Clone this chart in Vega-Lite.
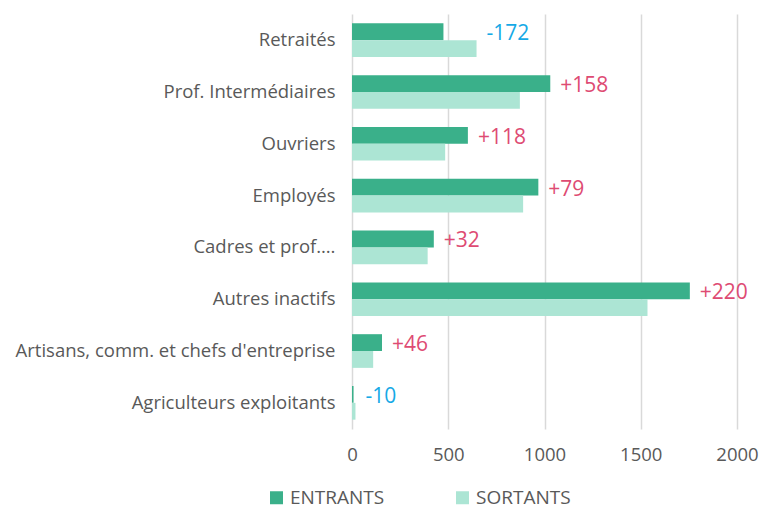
{
  "$schema": "https://vega.github.io/schema/vega-lite/v6.json",
  "width": 385,
  "height": 415,
  "autosize": {"type": "none"},
  "padding": {"left": 352, "top": 14, "right": 36, "bottom": 80},
  "background": "white",
  "config": {
    "view": {"stroke": null},
    "font": "Open Sans",
    "axis": {"labelFont": "Open Sans", "labelColor": "#595959", "labelFontSize": 18.5}
  },
  "data": {
    "values": [
      {"cat": "Retraités", "ENTRANTS": 475, "SORTANTS": 647, "solde": "-172"},
      {"cat": "Prof. Intermédiaires", "ENTRANTS": 1030, "SORTANTS": 872, "solde": "+158"},
      {"cat": "Ouvriers", "ENTRANTS": 602, "SORTANTS": 484, "solde": "+118"},
      {"cat": "Employés", "ENTRANTS": 968, "SORTANTS": 889, "solde": "+79"},
      {"cat": "Cadres et prof.…", "ENTRANTS": 425, "SORTANTS": 393, "solde": "+32"},
      {"cat": "Autres inactifs", "ENTRANTS": 1755, "SORTANTS": 1535, "solde": "+220"},
      {"cat": "Artisans, comm. et chefs d'entreprise", "ENTRANTS": 156, "SORTANTS": 110, "solde": "+46"},
      {"cat": "Agriculteurs exploitants", "ENTRANTS": 8, "SORTANTS": 18, "solde": "-10"}
    ]
  },
  "layer": [
    {
      "transform": [{"fold": ["ENTRANTS", "SORTANTS"], "as": ["type", "value"]}],
      "mark": {"type": "bar"},
      "encoding": {
        "y": {
          "field": "cat", "type": "nominal", "sort": null, "title": null,
          "scale": {"paddingInner": 0.35, "paddingOuter": 0.18},
          "axis": {"ticks": false, "domain": false, "labelPadding": 17, "labelLimit": 400}
        },
        "yOffset": {"field": "type", "type": "nominal", "sort": ["ENTRANTS", "SORTANTS"]},
        "x": {
          "field": "value", "type": "quantitative", "title": null,
          "scale": {"domain": [0, 2000], "nice": false},
          "axis": {"values": [0, 500, 1000, 1500, 2000], "format": "d", "labelFlush": false, "ticks": false, "domain": false, "labelPadding": 16, "gridColor": "#d9d9d9", "gridWidth": 1.5}
        },
        "color": {
          "field": "type", "type": "nominal",
          "scale": {"domain": ["ENTRANTS", "SORTANTS"], "range": ["#3AB08A", "#ACE5D4"]},
          "legend": {
            "title": null, "orient": "none", "direction": "horizontal",
            "legendX": -85, "legendY": 474, "symbolType": "square", "symbolSize": 169,
            "symbolStrokeWidth": 0, "labelFontSize": 19, "labelColor": "#595959",
            "labelFont": "Open Sans", "columnPadding": 68, "labelOffset": 4
          }
        }
      }
    },
    {
      "transform": [{"calculate": "max(datum.ENTRANTS, datum.SORTANTS)", "as": "pos"}],
      "mark": {"type": "text", "align": "left", "baseline": "middle", "dx": 10, "dy": -6, "fontSize": 21, "font": "Open Sans"},
      "encoding": {
        "y": {"field": "cat", "type": "nominal", "sort": null},
        "x": {"field": "pos", "type": "quantitative"},
        "text": {"field": "solde"},
        "color": {
          "condition": {"test": "datum.solde[0] == '-'", "value": "#15A9E6"},
          "value": "#DE4B73"
        }
      }
    }
  ]
}
